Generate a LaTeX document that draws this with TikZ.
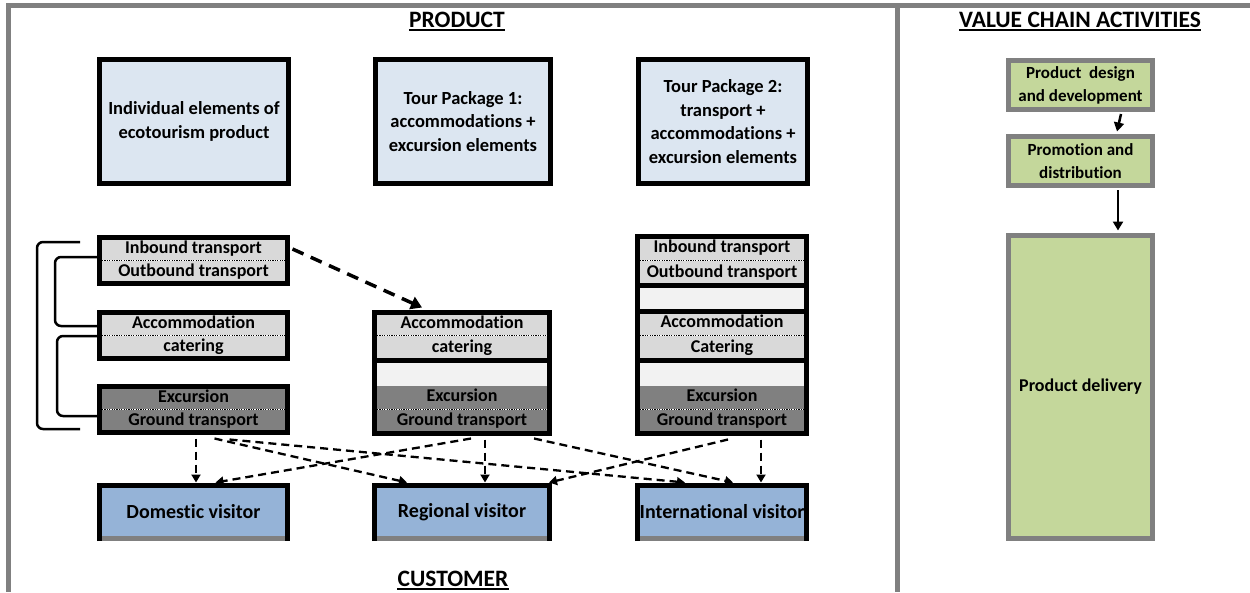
\documentclass[tikz,border=0pt]{standalone}
\usepackage{fontspec}
\setmainfont{Carlito}[Ligatures=NoCommon]
\usetikzlibrary{arrows.meta}

\definecolor{framegray}{HTML}{808080}
\definecolor{pkgblue}{HTML}{DCE6F1}
\definecolor{cellgray}{HTML}{D9D9D9}
\definecolor{blankgray}{HTML}{F2F2F2}
\definecolor{darkcell}{HTML}{808080}
\definecolor{visitorblue}{HTML}{95B3D7}
\definecolor{chaingreen}{HTML}{C4D79B}

\begin{document}
\begin{tikzpicture}[x=1pt,y=-1pt,
  frame/.style={line width=5pt, draw=framegray},
  title/.style={inner sep=0pt, anchor=base, font=\bfseries\fontsize{23.5}{27}\selectfont},
  titleline/.style={line width=1.8pt},
  pkgbox/.style={rectangle, draw=black, line width=5pt, fill=pkgblue, inner sep=2pt,
    align=center, font=\bfseries\fontsize{18.5}{23.5}\selectfont},
  cell/.style={rectangle, inner sep=0pt, outer sep=0pt, text height=12.5pt, text depth=4pt,
    font=\bfseries\fontsize{18}{21}\selectfont},
  lightcell/.style={cell, fill=cellgray},
  blankcell/.style={cell, fill=blankgray},
  darkcell/.style={cell, fill=darkcell},
  boxborder/.style={line width=5pt, draw=black, line join=miter},
  separator/.style={line width=5pt, draw=black},
  divider/.style={line width=0.9pt, draw=black, dash pattern=on 1.2pt off 1.2pt,
    preaction={draw=white, solid, line width=1.4pt}},
  visitor/.style={rectangle, fill=visitorblue, inner sep=0pt, outer sep=0pt,
    font=\bfseries\fontsize{20}{24}\selectfont},
  chainbox/.style={rectangle, draw=framegray, line width=5pt, fill=chaingreen, inner sep=2pt,
    align=center, font=\bfseries\fontsize{17}{23}\selectfont},
  flowarrow/.style={line width=2.5pt, -{Triangle[length=9pt,width=10pt]}},
  bigdash/.style={line width=3.5pt, dash pattern=on 12pt off 8pt, -{Triangle[length=11pt,width=13pt]}},
  smalldash/.style={line width=2.3pt, dash pattern=on 8pt off 5pt, -{Triangle[length=8pt,width=9pt]}},
  bracket/.style={line width=2.5pt, rounded corners=6pt}
]
\useasboundingbox (0,0) rectangle (1250,592);
\fill[white] (0,0) rectangle (1250,592);

% ---- outer frame and divider ----
\draw[frame] (6,5.5) -- (1250,5.5);
\draw[frame] (8.5,3) -- (8.5,592);
\draw[frame] (897.5,3) -- (897.5,592);

% ---- section titles ----
\node[title] (tprod) at (457,27) {PRODUCT};
\draw[titleline] ([yshift=-3pt]tprod.base west) -- ([yshift=-3pt]tprod.base east);
\node[title] (tcust) at (453,586) {CUSTOMER};
\draw[titleline] ([yshift=-3pt]tcust.base west) -- ([yshift=-3pt]tcust.base east);
\node[title] (tvca) at (1080,27) {VALUE CHAIN ACTIVITIES};
\draw[titleline] ([yshift=-3pt]tvca.base west) -- ([yshift=-3pt]tvca.base east);

% ---- product types ----
\node[pkgbox, minimum width=189pt, minimum height=124pt] (pind) at (194,121.5)
  {Individual elements of\\ecotourism product};
\node[pkgbox, minimum width=175pt, minimum height=124pt] (ppk1) at (463,121.5)
  {Tour Package 1:\\accommodations +\\excursion elements};
\node[pkgbox, minimum width=169pt, minimum height=124pt] (ppk2) at (723,121.5)
  {Tour Package 2:\\transport +\\accommodations +\\excursion elements};

% ---- left column: individual elements ----
\node[lightcell, minimum width=188pt, minimum height=23pt] (lin)  at (193.5,249)   {Inbound transport};
\node[lightcell, minimum width=188pt, minimum height=23pt] (lout) at (193.5,272)   {Outbound transport};
\node[lightcell, minimum width=188pt, minimum height=23pt] (lacc) at (193.5,324)   {Accommodation};
\node[lightcell, minimum width=188pt, minimum height=23pt] (lcat) at (193.5,347)   {catering};
\node[darkcell,  minimum width=188pt, minimum height=23pt] (lexc) at (193.5,398)   {Excursion};
\node[darkcell,  minimum width=188pt, minimum height=23pt] (lgrd) at (193.5,421)   {Ground transport};
\draw[divider] (lin.south west) -- (lin.south east);
\draw[divider] (lacc.south west) -- (lacc.south east);
\draw[divider] (lexc.south west) -- (lexc.south east);
\draw[boxborder] (lin.north west) rectangle (lout.south east);
\draw[boxborder] (lacc.north west) rectangle (lcat.south east);
\draw[boxborder] (lexc.north west) rectangle (lgrd.south east);

% ---- middle column: tour package 1 ----
\node[lightcell, minimum width=175pt, minimum height=23pt]   (macc) at (462,324)    {Accommodation};
\node[lightcell, minimum width=175pt, minimum height=24.5pt] (mcat) at (462,347.75) {catering};
\node[blankcell, minimum width=175pt, minimum height=25.5pt] (mbl)  at (462,372.75) {};
\node[darkcell,  minimum width=175pt, minimum height=24pt]   (mexc) at (462,397.5)  {Excursion};
\node[darkcell,  minimum width=175pt, minimum height=24pt]   (mgrd) at (462,421.5)  {Ground transport};
\draw[divider] (macc.south west) -- (macc.south east);
\draw[divider] (mexc.south west) -- (mexc.south east);
\draw[separator] (mcat.south west) -- (mcat.south east);
\draw[boxborder] (macc.north west) rectangle (mgrd.south east);

% ---- right column: tour package 2 ----
\node[lightcell, minimum width=169pt, minimum height=24pt]   (rin)  at (722,248.5)  {Inbound transport};
\node[lightcell, minimum width=169pt, minimum height=24.5pt] (rout) at (722,272.75) {Outbound transport};
\node[blankcell, minimum width=169pt, minimum height=26pt]   (rbl1) at (722,298)    {};
\node[lightcell, minimum width=169pt, minimum height=24.5pt] (racc) at (722,323.25) {Accommodation};
\node[lightcell, minimum width=169pt, minimum height=24.5pt] (rcat) at (722,347.75) {Catering};
\node[blankcell, minimum width=169pt, minimum height=25.5pt] (rbl2) at (722,372.75) {};
\node[darkcell,  minimum width=169pt, minimum height=24pt]   (rexc) at (722,397.5)  {Excursion};
\node[darkcell,  minimum width=169pt, minimum height=24pt]   (rgrd) at (722,421.5)  {Ground transport};
\draw[divider] (rin.south west) -- (rin.south east);
\draw[divider] (racc.south west) -- (racc.south east);
\draw[divider] (rexc.south west) -- (rexc.south east);
\draw[separator] (rout.south west) -- (rout.south east);
\draw[separator] (rbl1.south west) -- (rbl1.south east);
\draw[separator] (rcat.south west) -- (rcat.south east);
\draw[boxborder] (rin.north west) rectangle (rgrd.south east);

% ---- brackets grouping the individual elements ----
\draw[bracket] (80,242) -- (37,242) -- (37,429) -- (80,429);
\draw[bracket] (97,257) -- (55,257) -- (55,326) -- (97,326);
\draw[bracket] (97,336) -- (57,336) -- (57,416) -- (97,416);

% ---- customer segments ----
\node[visitor, minimum width=188pt, minimum height=53pt] (dom) at (193.5,512) {Domestic visitor};
\node[visitor, minimum width=175pt, minimum height=53pt] (reg) at (462,512)   {Regional visitor};
\node[visitor, minimum width=169pt, minimum height=53pt] (int) at (722,512)   {International visitor};
\foreach \v in {dom,reg,int}{
  \draw[line width=5pt, framegray] (\v.south west) -- (\v.south east);
  \draw[boxborder] ([yshift=-2.5pt]\v.south west) -- (\v.north west) -- (\v.north east) -- ([yshift=-2.5pt]\v.south east);
}

% ---- transport link into tour package 1 ----
\draw[bigdash] ([xshift=5pt]lin.east) -- ([xshift=-40pt,yshift=5pt]macc.north);

% ---- products to customers ----
\draw[smalldash] ([xshift=2.5pt,yshift=-6pt]lgrd.south)  -- ([xshift=2.5pt,yshift=3pt]dom.north);
\draw[smalldash] ([xshift=21pt,yshift=-6pt]lgrd.south)   -- ([xshift=-55pt,yshift=3pt]reg.north);
\draw[smalldash] ([xshift=36pt,yshift=-7pt]lgrd.south)   -- ([xshift=-37pt,yshift=3pt]int.north);
\draw[smalldash] ([xshift=9pt,yshift=-5pt]mgrd.south)    -- ([xshift=22pt,yshift=3pt]dom.north);
\draw[smalldash] ([xshift=23pt,yshift=-6pt]mgrd.south)   -- ([xshift=23pt,yshift=3pt]reg.north);
\draw[smalldash] ([xshift=72pt,yshift=-5pt]mgrd.south)   -- ([xshift=11pt,yshift=3pt]int.north);
\draw[smalldash] ([xshift=6pt,yshift=-6pt]rgrd.south)    -- ([xshift=87pt,yshift=3pt]reg.north);
\draw[smalldash] ([xshift=39pt,yshift=-6pt]rgrd.south)   -- ([xshift=39pt,yshift=3pt]int.north);

% ---- value chain activities ----
\node[chainbox, minimum width=144pt, minimum height=49pt] (vdes) at (1080.5,85)
  {Product~ design\\and development};
\node[chainbox, minimum width=144pt, minimum height=49pt] (vpro) at (1080.5,161)
  {Promotion and\\distribution};
\node[chainbox, minimum width=144pt, minimum height=303pt, font=\bfseries\fontsize{18}{23}\selectfont] (vdel) at (1080.5,387)
  {Product delivery};
\draw[flowarrow] ([xshift=40.5pt,yshift=-2pt]vdes.south) -- ([xshift=36.5pt,yshift=2.5pt]vpro.north);
\draw[flowarrow] ([xshift=37.5pt,yshift=-2pt]vpro.south) -- ([xshift=37.5pt,yshift=2.5pt]vdel.north);
\end{tikzpicture}
\end{document}
